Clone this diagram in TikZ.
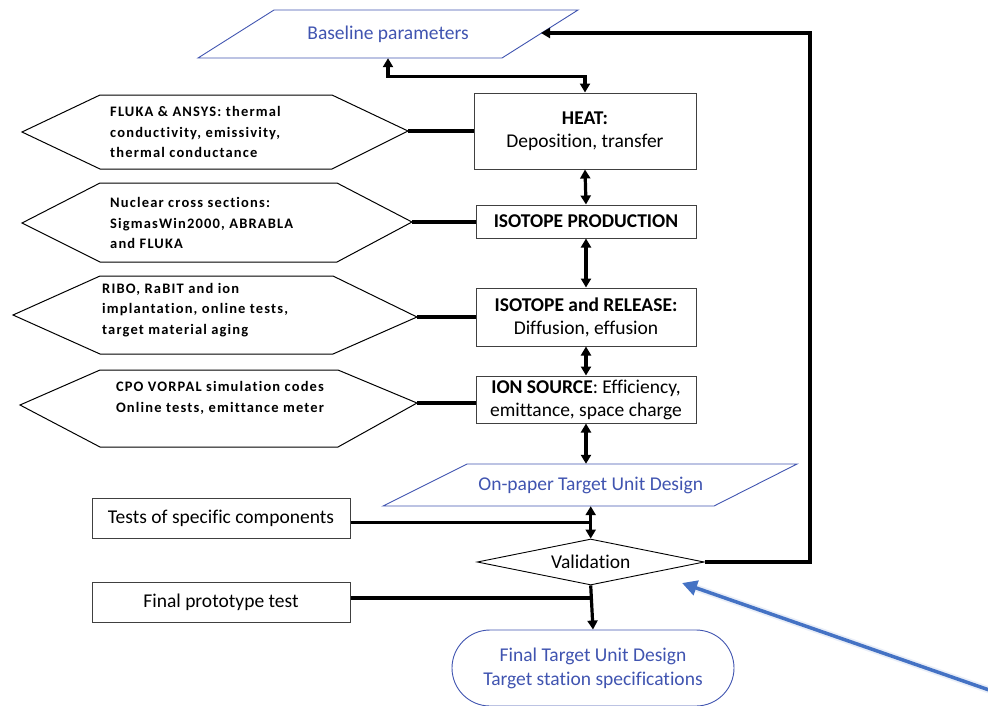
\documentclass[tikz,border=0pt]{standalone}
\usepackage{fontspec}
\setmainfont{Carlito}[Ligatures=NoCommon]
\usetikzlibrary{arrows.meta,shapes.geometric,shapes.misc}
\definecolor{bluetxt}{RGB}{64,84,176}
\definecolor{bluearr}{RGB}{68,114,196}
\definecolor{boxgray}{RGB}{64,64,64}
\newcommand\bsp{\bfseries}
\begin{document}
\begin{tikzpicture}[x=1pt,y=-1pt,
  box/.style={draw=boxgray, line width=1pt, rectangle, inner sep=0pt, align=center,
    font=\fontsize{19.5}{23}\selectfont},
  hexline/.style={draw=black, line width=1pt, line join=miter},
  hextext/.style={align=left, anchor=west, inner sep=0pt,
    font=\fontsize{14.5}{20.5}\selectfont\bfseries\addfontfeatures{LetterSpace=8}},
  blueline/.style={draw=bluetxt, line width=0.9pt},
  bluetext/.style={text=bluetxt, align=center, inner sep=0pt, font=\fontsize{19.5}{24}\selectfont},
  conn/.style={draw=black, line width=3.2pt},
  tip/.tip={Triangle[length=9pt,width=10pt]},
  dconn/.style={conn, tip-tip},
  aconn/.style={conn, -tip}
]
\useasboundingbox (0,0) rectangle (988,705);

% Baseline parameters
\draw[blueline] (274,10) -- (578,10) -- (502,58) -- (198,58) -- cycle;
\node[bluetext, minimum width=300pt, minimum height=48pt] (base) at (388,34) {Baseline parameters};
\coordinate (bpr) at (541,33);

% main column
\node[box, minimum width=222pt, minimum height=76pt] (heat) at (585,131)
  {{\bsp HEAT:}\\Deposition, transfer};
\node[box, minimum width=220pt, minimum height=33pt] (isoprod) at (586,221.5)
  {{\bsp ISOTOPE PRODUCTION}};
\node[box, minimum width=220pt, minimum height=58pt] (release) at (586,317)
  {{\bsp ISOTOPE and RELEASE:}\\Diffusion, effusion};
\node[box, minimum width=220pt, minimum height=47pt] (ion) at (586,399.5)
  {{\bsp ION SOURCE}: Efficiency,\\emittance, space charge};

% On-paper design
\draw[blueline] (467,464) -- (797,464) -- (714,506) -- (383,506) -- cycle;
\node[bluetext, minimum width=300pt, minimum height=42pt] (onpaper) at (590.7,485) {On-paper Target Unit Design};

% Validation
\node[diamond, draw=black, line width=0.9pt, minimum width=227pt, minimum height=46pt, aspect=4.9,
  inner sep=0pt, font=\fontsize{19.5}{21}\selectfont] (valid) at (590.7,562) {Validation};

% Final design
\node[rounded rectangle, draw=bluetxt, line width=0.9pt, minimum width=282pt, minimum height=76pt,
  inner sep=0pt, text=bluetxt, align=center, font=\fontsize{19.5}{24}\selectfont] (final) at (593,668)
  {Final Target Unit Design\\Target station specifications};

% Left boxes
\node[box, minimum width=258pt, minimum height=40pt] (tests) at (221,518) {Tests of specific components};
\node[box, minimum width=258pt, minimum height=40pt] (proto) at (221,602) {Final prototype test};

% Hexagons
\draw[hexline] (22,132) -- (100,95) -- (332,95) -- (408,131) -- (332,169) -- (100,169) -- cycle;
\node[hextext] (hex1) at (110,132) {FLUKA \& ANSYS: thermal\\conductivity, emissivity,\\thermal conductance};
\coordinate (h1r) at (408,131);

\draw[hexline] (22,223) -- (100,183) -- (337,183) -- (412,222) -- (337,262) -- (100,262) -- cycle;
\node[hextext] (hex2) at (110,223) {Nuclear cross sections:\\SigmasWin2000, ABRABLA\\and FLUKA};
\coordinate (h2r) at (412,222);

\draw[hexline] (13,315) -- (100,276) -- (333,276) -- (417,317) -- (333,354) -- (100,354) -- cycle;
\node[hextext] (hex3) at (102,310) {RIBO, RaBIT and ion\\implantation, online tests,\\target material aging};
\coordinate (h3r) at (417,317);

\draw[hexline] (20,405) -- (100,370) -- (338,370) -- (417,403) -- (338,447) -- (100,447) -- cycle;
\node[hextext, align=center, anchor=center] (hex4) at (220,398) {CPO VORPAL simulation codes\\Online tests, emittance meter};
\coordinate (h4r) at (417,403);

% hexagon connectors
\draw[conn] (h1r) -- (h1r -| heat.west);
\draw[conn] (h2r) -- (h2r -| isoprod.west);
\draw[conn] (h3r) -- (h3r -| release.west);
\draw[conn] (h4r) -- (h4r -| ion.west);

% main flow
\draw[dconn] (base.south) -- ++(0,18) -| (heat.north);
\draw[dconn] (heat.south) -- (isoprod.north);
\draw[dconn] (isoprod.south) -- (release.north);
\draw[dconn] (release.south) -- (ion.north);
\draw[dconn] (ion.south) -- (ion.south |- onpaper.north);
\draw[dconn] (onpaper.south) -- (valid.north);
\draw[aconn] (valid.south) -- (final.north);
\coordinate (loopc) at (810,33);
\draw[aconn] (valid.east) -| (loopc) -- (bpr);

% side inputs
\draw[conn] ([yshift=-4.5pt]tests.east) -- ([yshift=-4.5pt]tests.east -| valid.north);
\draw[conn] ([yshift=4pt]proto.east) -- ([yshift=4pt]proto.east -| valid.south);

% blue pointer arrow
\coordinate (btail) at (992,691);
\coordinate (btip) at (682,583);
\draw[draw=bluearr!12, line width=7pt, line cap=round, shorten >=12pt] (btail) -- (btip);
\draw[draw=bluearr, line width=3.5pt, -{Triangle[length=15pt,width=15pt]}] (btail) -- (btip);
\end{tikzpicture}
\end{document}
